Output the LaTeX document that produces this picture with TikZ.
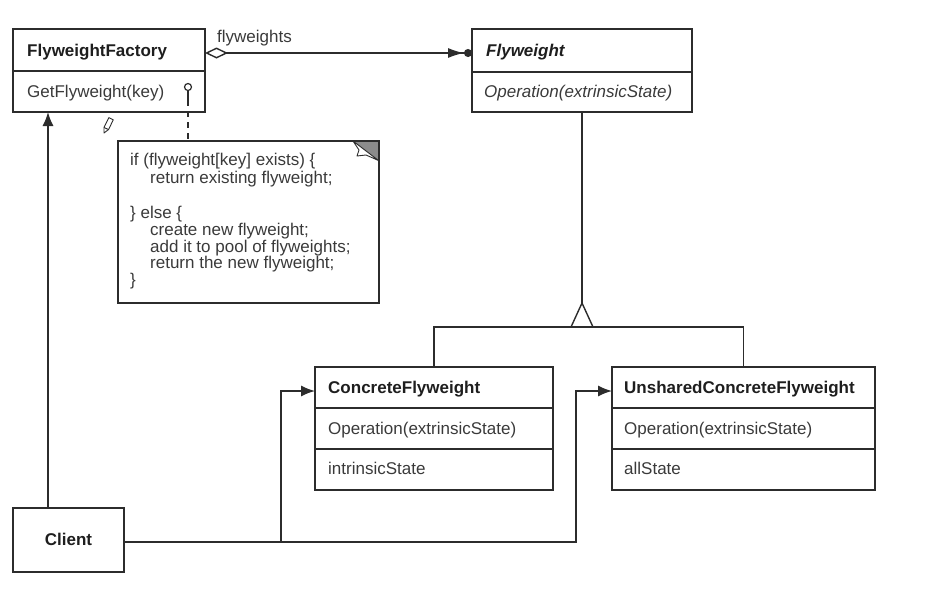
\documentclass[tikz,border=0pt]{standalone}
\usepackage{fontspec}
\setmainfont{Liberation Sans}
\usetikzlibrary{arrows.meta,calc}
\definecolor{ln}{HTML}{2C2C2C}
\definecolor{tx}{HTML}{1E1E1E}
\definecolor{tr}{HTML}{3A3A3A}
\definecolor{ear}{HTML}{8C8C8C}
\begin{document}
\begin{tikzpicture}[x=1pt,y=-1pt,
  line/.style={draw=ln,line width=1.4pt},
  comp/.style={draw=ln,line width=1.4pt,anchor=north west,inner sep=0pt,outer sep=0pt},
  ttl/.style={anchor=base west,inner sep=0pt,text=tx,font=\fontsize{17}{20}\selectfont\bfseries},
  txt/.style={anchor=base west,inner sep=0pt,text=tr,font=\fontsize{17}{20}\selectfont},
  tip/.style={-{Latex[length=14pt,width=11pt]}}
]
\useasboundingbox (0,0) rectangle (939,614);

% FlyweightFactory
\node[comp,minimum width=192pt,minimum height=42pt] (ffT) at (13,29) {};
\node[comp,minimum width=192pt,minimum height=41pt] (ffO) at (13,71) {};
\node[ttl] (ffTt) at (27,56) {FlyweightFactory};
\node[txt] (ffOt) at (27,97) {GetFlyweight(key)};

% Flyweight
\node[comp,minimum width=220pt,minimum height=43pt] (fwT) at (472,29) {};
\node[comp,minimum width=220pt,minimum height=40pt] (fwO) at (472,72) {};
\node[ttl,font=\fontsize{17}{20}\selectfont\bfseries\itshape] (fwTt) at (486,56) {Flyweight};
\node[txt,font=\fontsize{17}{20}\selectfont\itshape] (fwOt) at (484,97) {Operation(extrinsicState)};

% ConcreteFlyweight
\node[comp,minimum width=238pt,minimum height=41pt] (cfT) at (315,367) {};
\node[comp,minimum width=238pt,minimum height=41pt] (cfO) at (315,408) {};
\node[comp,minimum width=238pt,minimum height=41pt] (cfA) at (315,449) {};
\node[ttl] (cfTt) at (328,393) {ConcreteFlyweight};
\node[txt] (cfOt) at (328,434) {Operation(extrinsicState)};
\node[txt] (cfAt) at (328,474) {intrinsicState};

% UnsharedConcreteFlyweight
\node[comp,minimum width=263pt,minimum height=41pt] (ucT) at (612,367) {};
\node[comp,minimum width=263pt,minimum height=41pt] (ucO) at (612,408) {};
\node[comp,minimum width=263pt,minimum height=41pt] (ucA) at (612,449) {};
\node[ttl] (ucTt) at (624,393) {UnsharedConcreteFlyweight};
\node[txt] (ucOt) at (624,434) {Operation(extrinsicState)};
\node[txt] (ucAt) at (624,474) {allState};

% Client
\node[comp,minimum width=111pt,minimum height=64pt] (client) at (13,508) {};
\node[ttl,anchor=base] (clientt) at ([yshift=-5pt]client.center) {Client};

% Note with dog-ear
\fill[ear] (353,141) -- (379,141) -- (379,161) -- cycle;
\draw[draw=ln,line width=0.9pt,fill=white,line join=round] (353,141) -- (359,150) -- (357,156) -- (366,155) -- (378.5,160.5) -- cycle;
\node[comp,minimum width=261pt,minimum height=162pt] (note) at (118,141) {};
\node[txt] (n1) at (130,165) {if (flyweight[key] exists) \{};
\node[txt] (n2) at (150,183) {return existing flyweight;};
\node[txt] (n3) at (130,218) {\} else \{};
\node[txt] (n4) at (150,235) {create new flyweight;};
\node[txt] (n5) at (150,252) {add it to pool of flyweights;};
\node[txt] (n6) at (150,268) {return the new flyweight;};
\node[txt] (n7) at (130,285) {\}};

% lollipop and dashed link to note
\node[circle,draw=ln,line width=1.2pt,minimum size=7pt,inner sep=0pt] (lol) at (188,87) {};
\draw[line] (lol.south) -- ++(0,9) coordinate (stem);
\draw[line,dash pattern=on 6pt off 5pt] (stem) -- (stem |- note.north);

% pencil icon
\draw[draw=ln,line width=0.9pt,line join=round] (104,133) -- (108.5,129.6) -- (113.3,119.8) -- (108.9,117.6) -- (104,127.4) -- cycle;
\draw[draw=ln,line width=0.9pt] (104,127.4) -- (108.5,129.6);

% aggregation flyweights
\draw[line,{Diamond[open,length=23pt,width=11pt]}-{Latex[length=16pt,width=10pt]Circle[length=8pt,width=8pt]}]
  ([yshift=-3pt]ffT.east) -- ([yshift=-3pt]ffT.east -| fwT.west);
\node[txt] (agl) at (217,42) {flyweights};

% inheritance
\coordinate (apex) at (fwO.south |- 0,303);
\draw[line] (fwO.south) -- (apex);
\draw[line,fill=white,line join=miter] (apex) -- ++(-11,24) -- ++(22,0) -- cycle;
\draw[line] (cfT.north) -- ++(0,-40) -| (ucT.north);

% client to factory
\draw[line,tip] ([xshift=35pt]client.north west) -- ([xshift=35pt]client.north west |- ffO.south);

% client to concrete classes
\coordinate (j1) at (281,542);
\coordinate (j2) at (576,542);
\draw[line,tip] (client.east |- j2) -- (j2) |- ([yshift=-3.5pt]ucT.west);
\draw[line,tip] (j1) |- ([yshift=-3.5pt]cfT.west);
\end{tikzpicture}
\end{document}
